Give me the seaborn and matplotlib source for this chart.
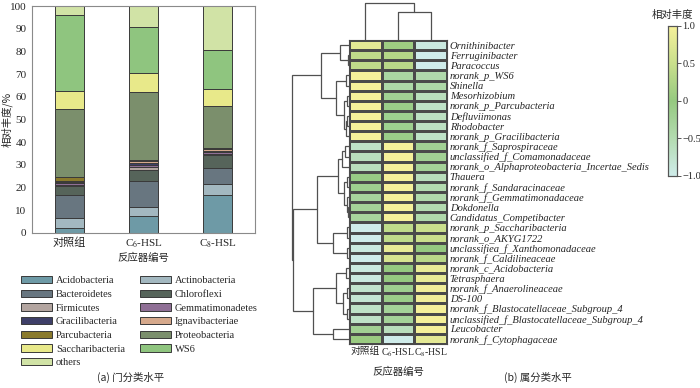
import numpy as np
import pandas as pd
import matplotlib
matplotlib.use("Agg")
import matplotlib.pyplot as plt
import seaborn as sns
from matplotlib.colors import LinearSegmentedColormap
from matplotlib.patches import Patch

##### DATA
# (a) phylum level, stacked percentages
reactors = ["对照组", "C$_6$-HSL", "C$_8$-HSL"]
phyla = ["Acidobacteria", "Actinobacteria", "Bacteroidetes", "Chloroflexi",
         "Firmicutes", "Gemmatimonadetes", "Gracilibacteria", "Ignavibacteriae",
         "Parcubacteria", "Proteobacteria", "Saccharibacteria", "WS6", "others"]
control = [2.2, 4.4, 10.3, 3.9, 0.5, 0.6, 0.5, 0.6, 1.5, 30.3, 7.8, 33.3, 4.1]
c6_hsl = [7.3, 4.1, 11.3, 5.2, 1.0, 1.0, 0.8, 0.8, 0.8, 29.7, 8.4, 20.5, 9.1]
c8_hsl = [16.9, 4.7, 7.0, 5.7, 0.6, 0.9, 0.5, 0.5, 0.6, 18.6, 7.3, 17.3, 19.4]
phylum_colors = ["#6e9aa6", "#a3b8c0", "#687680", "#56645a", "#b3a5a0", "#8f6f95",
                 "#3e3f68", "#d6a98c", "#8a7a2c", "#7b8f6c", "#e8e98a", "#8fc57f",
                 "#d1e3a6"]

# (b) genus level heatmap (row scaled relative abundance)
genera = ["Ornithinibacter", "Ferruginibacter", "Paracoccus", "norank_p_WS6",
          "Shinella", "Mesorhizobium", "norank_p_Parcubacteria", "Defluviimonas",
          "Rhodobacter", "norank_p_Gracilibacteria", "norank_f_Saprospiraceae",
          "unclassified_f_Comamonadaceae",
          "norank_o_Alphaproteobacteria_Incertae_Sedis", "Thauera",
          "norank_f_Sandaracinaceae", "norank_f_Gemmatimonadaceae", "Dokdonella",
          "Candidatus_Competibacter", "norank_p_Saccharibacteria",
          "norank_o_AKYG1722", "unclassifiea_f_Xanthomonadaceae",
          "norank_f_Caldilineaceae", "norank_c_Acidobacteria", "Tetrasphaera",
          "norank_f_Anaerolineaceae", "DS-100",
          "norank_f_Blastocatellaceae_Subgroup_4",
          "unclassified_f_Blastocatellaceae_Subgroup_4", "Leucobacter",
          "norank_f_Cytophagaceae"]
hm_control = [0.8, 0.4, 0.4, 1.0, 1.0, 1.0, 1.0, 1.0, 1.0, 1.0,
              -0.7, -0.6, -0.6, -0.05, -0.15, -0.3, -0.25, -0.3,
              -1.0, -1.0, -0.9, -1.0,
              -0.9, -0.9, -0.75, -0.8, -0.7, -0.7, -0.2, 0.05]
hm_c6 = [0.1, 0.3, 0.35, -0.35, -0.4, -0.2, -0.1, -0.15, -0.15, -0.1,
         1.0, 1.0, 1.0, 1.0, 1.0, 1.0, 1.0, 1.0,
         0.4, 0.4, 0.85, 0.65,
         0.0, 0.0, -0.15, -0.1, -0.25, -0.25, -0.6, -1.0]
hm_c8 = [-0.9, -1.0, -1.0, -0.45, -0.4, -0.6, -0.7, -0.65, -0.65, -0.7,
         -0.2, -0.2, -0.25, -0.6, -0.5, -0.45, -0.5, -0.45,
         0.5, 0.5, 0.0, 0.35,
         0.85, 0.85, 0.95, 0.95, 1.0, 1.0, 1.0, 0.8]

# dendrogram merges (a, b, height); new clusters numbered from n upward
row_merges = [(1, 2, 1.5), (0, 30, 9.3),
              (3, 4, 3), (5, 6, 2), (7, 8, 2), (34, 9, 3.5), (33, 35, 5), (32, 36, 13.3),
              (31, 37, 28),
              (10, 11, 4), (39, 12, 7), (13, 14, 2), (16, 17, 1.5), (15, 42, 2.5),
              (41, 43, 5.5), (40, 44, 11),
              (18, 19, 2.5), (20, 21, 2), (46, 47, 16),
              (45, 48, 32),
              (22, 23, 3), (24, 25, 2), (26, 27, 2), (51, 52, 6), (50, 53, 13),
              (28, 29, 16), (54, 55, 36),
              (49, 56, 56), (38, 57, 57)]
col_merges = [(1, 2, 28), (0, 3, 37)]


def dendro_segments(merges, n):
    pos = {i: i + 0.5 for i in range(n)}
    hgt = {i: 0.0 for i in range(n)}
    segs = []
    for k, (a, b, h) in enumerate(merges):
        segs.append(([hgt[a], h, h, hgt[b]], [pos[a], pos[a], pos[b], pos[b]]))
        pos[n + k] = (pos[a] + pos[b]) / 2
        hgt[n + k] = h
    return segs


##### STYLE
sns.set_style("white")
plt.rcParams['font.family'] = ['Liberation Serif', 'Noto Sans CJK SC']
plt.rcParams['mathtext.fontset'] = 'stix'
cjk = ['Noto Sans CJK SC', 'DejaVu Sans']

fig = plt.figure(figsize=(7, 3.88), dpi=100)

##### (a) stacked bars
ax1 = fig.add_axes([0.0457, 0.3995, 0.3186, 0.585])
stack = pd.DataFrame({"control": control, "c6": c6_hsl, "c8": c8_hsl}, index=phyla)
xs = np.arange(len(reactors))
bottom = np.zeros(len(reactors))
for name, col in zip(phyla, phylum_colors):
    vals = stack.loc[name].values
    ax1.bar(xs, vals, bottom=bottom, width=0.39, color=col,
            edgecolor="#3a3a3a", linewidth=0.7, label=name)
    bottom += vals
ax1.set_xlim(-0.5, 2.5)
ax1.set_ylim(0, 100)
ax1.set_yticks(np.arange(0, 101, 10))
ax1.set_xticks(xs)
ax1.set_xticklabels(reactors, fontsize=8)
ax1.set_xticks([0.5, 1.5], minor=True)
ax1.tick_params(axis="x", which="major", length=0, pad=3)
ax1.tick_params(axis="x", which="minor", length=3, direction="in", color="#666666")
ax1.tick_params(axis="y", length=3, direction="out", labelsize=8, pad=1, color="#666666")
for s in ax1.spines.values():
    s.set_color("#8a8a8a")
    s.set_linewidth(0.8)
ax1.set_ylabel("相对丰度/%", fontsize=7.5, family=cjk)
ax1.yaxis.set_label_coords(-0.085, 0.5)
ax1.set_xlabel("反应器编号", fontsize=7.5, family=cjk, labelpad=2)

# legend laid out row by row
handles = [Patch(facecolor=c, edgecolor="#3a3a3a", linewidth=0.7) for c in phylum_colors]
order = [0, 2, 4, 6, 8, 10, 12, 1, 3, 5, 7, 9, 11]
fig.legend([handles[i] for i in order], [phyla[i] for i in order],
           loc="upper left", bbox_to_anchor=(0.022, 0.302), ncol=2, frameon=False,
           fontsize=7.5, handlelength=3.0, handleheight=0.7, handletextpad=0.4,
           columnspacing=1.4, labelspacing=0.42, borderpad=0)
fig.text(0.186, 0.018, "(a) 门分类水平", fontsize=7.5, ha="center", family=cjk)

##### (b) heatmap with dendrograms
hm = pd.DataFrame({reactors[0]: hm_control, reactors[1]: hm_c6, reactors[2]: hm_c8},
                  index=genera)
cmap = LinearSegmentedColormap.from_list(
    "abund", ["#cfecea", "#b3dbb0", "#95c980", "#c9df8c", "#f5f09a"])

ax_hm = fig.add_axes([0.4986, 0.1134, 0.14, 0.7835])
ax_cb = fig.add_axes([0.9543, 0.5464, 0.0129, 0.3866])
sns.heatmap(hm, ax=ax_hm, cmap=cmap, vmin=-1, vmax=1, linewidths=0.8,
            linecolor="#4a4a4a", cbar_ax=ax_cb, xticklabels=True, yticklabels=True)
ax_hm.yaxis.tick_right()
ax_hm.set_yticklabels(genera, rotation=0, fontsize=7.6, style="italic")
ax_hm.set_xticklabels(reactors, rotation=0, fontsize=7.0)
ax_hm.tick_params(axis="both", length=0, pad=2)
for s in ax_hm.spines.values():
    s.set_visible(True)
    s.set_color("#4a4a4a")
    s.set_linewidth(0.8)
ax_hm.set_xlabel("反应器编号", fontsize=7.5, family=cjk, labelpad=5)
ax_hm.set_ylabel("")

ax_cb.set_yticks([-1, -0.5, 0, 0.5, 1])
ax_cb.set_yticklabels(["\u22121.0", "\u22120.5", "0", "0.5", "1.0"], fontsize=7.5)
ax_cb.tick_params(length=3, width=0.7, pad=1, color="#555555")
ax_cb.set_title("相对丰度", fontsize=7.5, family=cjk, pad=6)
for s in ax_cb.spines.values():
    s.set_visible(True)
    s.set_color("#555555")
    s.set_linewidth(0.8)

ax_rd = fig.add_axes([0.4143, 0.1134, 0.0843, 0.7835])
for hx, py in dendro_segments(row_merges, len(genera)):
    ax_rd.plot(hx, py, color="#505050", lw=0.9, solid_joinstyle="miter")
ax_rd.set_xlim(59, 0)
ax_rd.set_ylim(len(genera), 0)
ax_rd.axis("off")

ax_cd = fig.add_axes([0.4986, 0.8969, 0.14, 0.098])
for hy, px in dendro_segments(col_merges, len(reactors)):
    ax_cd.plot(px, hy, color="#505050", lw=0.9)
ax_cd.set_xlim(0, len(reactors))
ax_cd.set_ylim(0, 38)
ax_cd.axis("off")

fig.text(0.769, 0.018, "(b) 属分类水平", fontsize=7.5, ha="center", family=cjk)

fig.savefig("out.png", dpi=100)
